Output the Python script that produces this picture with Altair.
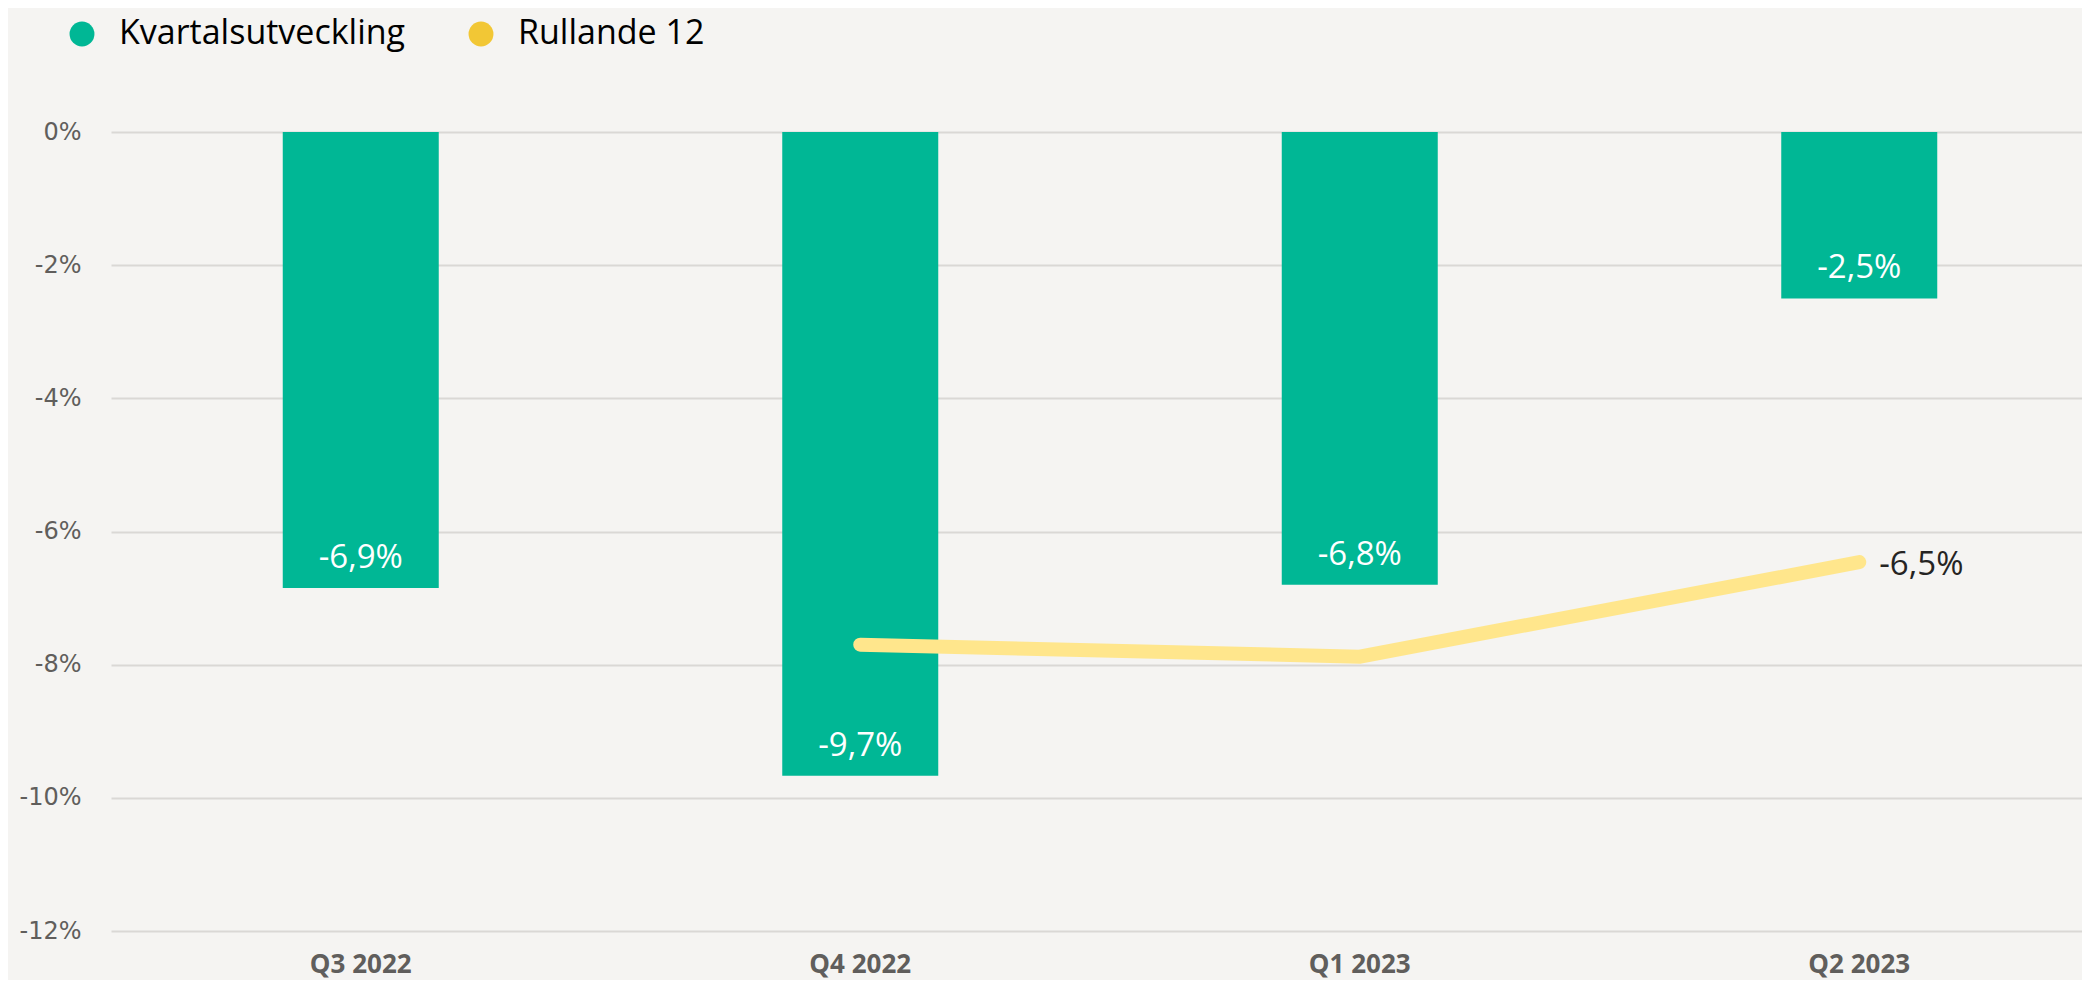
import altair as alt
import pandas as pd

quarters = ["Q3 2022", "Q4 2022", "Q1 2023", "Q2 2023"]
kvartal_values = [-6.85, -9.67, -6.8, -2.5]
kvartal_labels = ["-6,9%", "-9,7%", "-6,8%", "-2,5%"]
rull_quarters = ["Q4 2022", "Q1 2023", "Q2 2023"]
rull_values = [-7.7, -7.88, -6.46]
rull_labels = ["", "", "-6,5%"]
series = ["Kvartalsutveckling", "Rullande 12"]
series_colors = ["#00B795", "#F2C735"]
y_ticks = [0, -2, -4, -6, -8, -10, -12]

bars_df = pd.DataFrame({"kvartal": quarters, "value": kvartal_values,
                        "label": kvartal_labels, "serie": series[0]})
line_df = pd.DataFrame({"kvartal": rull_quarters, "value": rull_values,
                        "label": rull_labels, "serie": series[1]})

xenc = alt.X("kvartal:N", sort=quarters, title=None,
             scale=alt.Scale(domain=quarters, range=[0, 1998], paddingInner=0, paddingOuter=0),
             axis=alt.Axis(labelAngle=0, ticks=False, domain=False, grid=False,
                           labelFont="Open Sans", labelFontWeight="bold", labelFontSize=26,
                           labelColor="#605E5C", labelPadding=20))
yscale = alt.Scale(domain=[-12, 0], nice=False, zero=False)
yenc = alt.Y("value:Q", title=None, scale=yscale,
             axis=alt.Axis(values=y_ticks, ticks=False, domain=False, grid=True,
                           gridColor="#DAD8D5", gridWidth=2,
                           labelExpr="datum.value + '%'", labelFont="DejaVu Sans",
                           labelFontSize=24, labelColor="#605E5C", labelPadding=30))

bars = alt.Chart(bars_df).mark_bar(size=156).encode(
    x=xenc, y=yenc, y2=alt.datum(0),
    color=alt.Color("serie:N", scale=alt.Scale(domain=series, range=series_colors),
                    legend=alt.Legend(title=None, orient="none", direction="horizontal",
                                      legendX=-46, legendY=-115, symbolType="circle",
                                      symbolSize=620, symbolStrokeWidth=0,
                                      labelFont="Open Sans", labelFontSize=34,
                                      labelColor="#000000", labelOffset=20,
                                      labelLimit=0, columnPadding=58, symbolOpacity=1)))

bar_text = alt.Chart(bars_df).mark_text(color="white", font="Open Sans", fontSize=33,
                                        baseline="middle", dy=-30).encode(
    x=alt.X("kvartal:N", sort=quarters), y="value:Q", text="label:N")

line = alt.Chart(line_df).mark_line(color="#FFE68C", strokeWidth=14, strokeCap="round",
                                    strokeJoin="miter").encode(
    x=alt.X("kvartal:N", sort=quarters), y="value:Q")

line_text = alt.Chart(line_df).mark_text(color="#252423", font="Open Sans", fontSize=33,
                                         align="left", baseline="middle", dx=20, dy=3).encode(
    x=alt.X("kvartal:N", sort=quarters), y="value:Q", text="label:N")

chart = alt.layer(bars, bar_text, line, line_text).properties(
    width=1971, height=799,
    autosize=alt.AutoSizeParams(type="none"),
    padding={"left": 103, "top": 124, "right": 0, "bottom": 49},
    background="#F5F4F2",
).configure_view(stroke=None)

chart.save("out.html", embed_options={"renderer": "svg", "actions": False})
